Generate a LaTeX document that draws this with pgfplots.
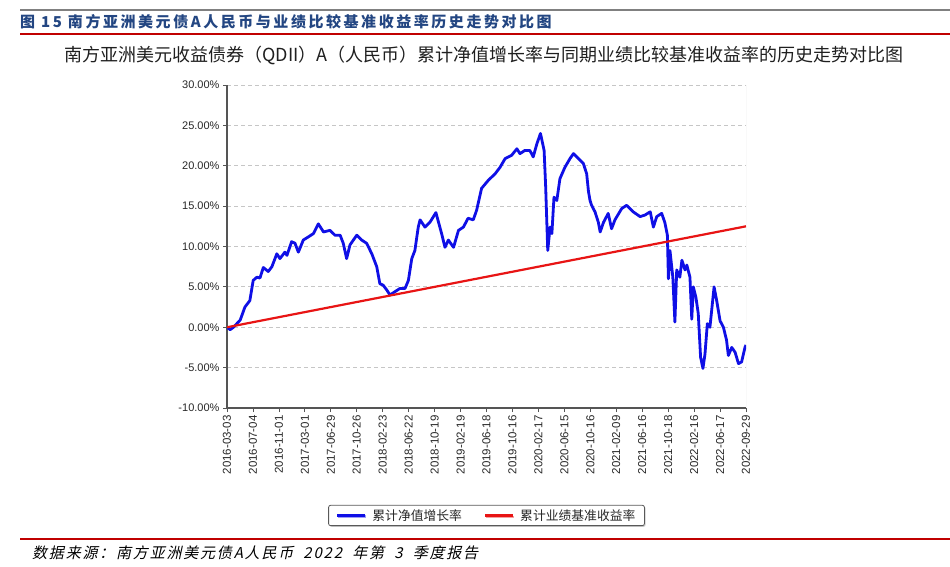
\documentclass[border=0pt]{standalone}
\usepackage{fontspec}
\setmainfont{Liberation Sans}
\newfontfamily\cjk{Noto Sans CJK SC}
\newfontfamily\cjkhead{Noto Sans CJK SC}[LetterSpace=17]
\newfontfamily\cjkfoot{Noto Sans CJK SC}[FakeSlant=0.22, LetterSpace=12]
\usepackage{pgfplots}
\pgfplotsset{compat=1.18}
\usepackage{pgfplotstable}
\usetikzlibrary{shadows}

\definecolor{headblue}{RGB}{35,70,130}
\definecolor{barred}{RGB}{192,0,0}
\definecolor{topgray}{RGB}{128,128,128}
\definecolor{axisgray}{RGB}{85,85,85}
\definecolor{textgray}{RGB}{40,40,40}
\definecolor{navblue}{RGB}{15,15,230}
\definecolor{benchred}{RGB}{232,20,20}

\pgfplotstableread{
x y
0.00 0.0
0.12 -0.3
0.25 0.0
0.38 0.45
0.51 0.9
0.69 2.5
0.88 3.3
1.01 5.8
1.15 6.2
1.27 6.1
1.40 7.4
1.59 6.9
1.73 7.5
1.92 9.1
2.04 8.5
2.23 9.3
2.31 8.9
2.49 10.6
2.62 10.4
2.75 9.3
2.94 10.8
3.14 11.2
3.33 11.6
3.52 12.8
3.72 11.8
3.97 12.0
4.16 11.4
4.36 11.4
4.48 10.4
4.61 8.5
4.74 10.2
5.00 11.4
5.19 10.8
5.38 10.4
5.58 9.1
5.77 7.5
5.89 5.4
6.02 5.2
6.16 4.6
6.28 4.0
6.47 4.4
6.66 4.8
6.86 4.8
6.99 5.8
7.12 8.5
7.24 9.5
7.37 12.4
7.44 13.3
7.63 12.4
7.82 13.0
8.05 14.2
8.27 11.6
8.40 9.9
8.53 10.8
8.73 9.9
8.92 12.0
9.11 12.4
9.29 13.5
9.49 13.3
9.62 14.5
9.81 17.2
10.07 18.2
10.33 19.0
10.52 19.8
10.72 20.9
10.97 21.3
11.17 22.1
11.29 21.5
11.48 21.9
11.67 21.9
11.80 21.1
11.94 22.7
12.08 24.0
12.22 21.9
12.28 17.4
12.36 9.5
12.45 12.4
12.52 11.6
12.60 16.1
12.71 15.7
12.83 18.4
13.02 19.8
13.22 20.9
13.35 21.5
13.54 20.9
13.73 20.3
13.86 19.0
13.93 16.8
13.99 15.7
14.05 15.1
14.18 14.3
14.31 13.0
14.38 11.8
14.51 13.0
14.69 14.1
14.82 12.2
14.95 13.3
15.21 14.7
15.40 15.1
15.65 14.3
15.92 13.7
16.11 13.9
16.31 14.3
16.43 12.4
16.56 13.7
16.75 14.1
16.87 13.0
16.97 11.4
17.01 6.0
17.07 9.5
17.18 6.2
17.26 0.65
17.33 7.1
17.45 6.2
17.53 8.3
17.65 7.1
17.72 7.7
17.84 6.2
17.91 1.0
17.97 5.0
18.07 3.7
18.16 1.7
18.25 -3.7
18.34 -5.1
18.42 -3.3
18.51 0.45
18.61 0.0
18.77 5.0
18.87 3.3
19.00 0.8
19.13 0.0
19.25 -1.6
19.32 -3.5
19.45 -2.5
19.58 -3.1
19.71 -4.5
19.83 -4.3
19.96 -2.5
20.00 -2.2
}\navtable

\begin{document}
\begin{tikzpicture}[x=1pt,y=1pt]
\useasboundingbox (0,0) rectangle (950,566);
\fill[white] (0,0) rectangle (950,566);
% top rules and header
\draw[topgray, line width=2pt] (20,556) -- (950,556);
\node[anchor=base west, inner sep=0pt, text=headblue, font=\cjkhead\bfseries\fontsize{15}{15}\selectfont] at (20,538) {图 15 南方亚洲美元债A人民币与业绩比较基准收益率历史走势对比图};
\draw[barred, line width=2pt] (20,532) -- (950,532);
% chart title
\node[anchor=center, inner sep=0pt, text=black!88, font=\cjk\fontsize{18}{18}\selectfont] at (484,511) {南方亚洲美元收益债券（QDII）A（人民币）累计净值增长率与同期业绩比较基准收益率的历史走势对比图};

\begin{axis}[
  at={(227pt,158pt)}, anchor=south west,
  scale only axis, width=519pt, height=323pt,
  xmin=0, xmax=20, ymin=-10, ymax=30,
  axis x line*=bottom, axis y line*=left,
  axis line style={-, draw=axisgray, line width=1.2pt},
  xtick={0,...,20},
  xticklabels={2016-03-03,2016-07-04,2016-11-01,2017-03-01,2017-06-29,2017-10-26,2018-02-23,2018-06-22,2018-10-19,2019-02-19,2019-06-18,2019-10-16,2020-02-17,2020-06-15,2020-10-16,2021-02-09,2021-06-16,2021-10-18,2022-02-16,2022-06-17,2022-09-29},
  x tick label style={rotate=90, anchor=east, font=\fontsize{11.5}{12}\selectfont, text=textgray},
  ytick={-10,-5,0,5,10,15,20,25,30},
  /pgf/number format/assume math mode=true,
  yticklabel={\pgfmathprintnumber[fixed,fixed zerofill,precision=2]{\tick}\%},
  y tick label style={font=\fontsize{11}{12}\selectfont, text=textgray},
  tick align=outside,
  major tick length=4pt,
  tick style={axisgray, line width=0.8pt},
  ymajorgrids,
  major grid style={gray!45, line width=0.8pt, dash pattern=on 4pt off 3pt},
  legend columns=2,
  legend style={at={(0.5,-0.30)}, anchor=north, draw=gray!70!black, line width=0.8pt,
    rounded corners=2pt, fill=white, text=textgray,
    font=\cjk\fontsize{12.8}{14}\selectfont, inner xsep=7pt, inner ysep=2pt,
    drop shadow={shadow xshift=1.2pt, shadow yshift=-1.2pt, opacity=0.4},
    /tikz/every odd column/.append style={column sep=4pt},
    /tikz/every even column/.append style={column sep=20pt}},
  legend image code/.code={\draw[#1] (0pt,0pt) -- (28pt,0pt);},
]
\addplot[navblue, line width=2.8pt, line join=round] table[x=x,y=y] {\navtable};
\addlegendentry{累计净值增长率}
\addplot[benchred, line width=2.2pt] coordinates {(0,0) (20,12.5)};
\addlegendentry{累计业绩基准收益率}
\draw[gray!35, line width=0.8pt] (rel axis cs:1,0) -- (rel axis cs:1,1);
\end{axis}

% bottom rule and source
\draw[barred, line width=2pt] (20,27) -- (950,27);
\node[anchor=base west, inner sep=0pt, text=black, font=\cjkfoot\fontsize{15}{15}\selectfont] at (32,8) {数据来源：南方亚洲美元债A人民币\hspace{5pt} 2022\hspace{5pt} 年第\hspace{5pt} 3\hspace{5pt} 季度报告};
\end{tikzpicture}
\end{document}
